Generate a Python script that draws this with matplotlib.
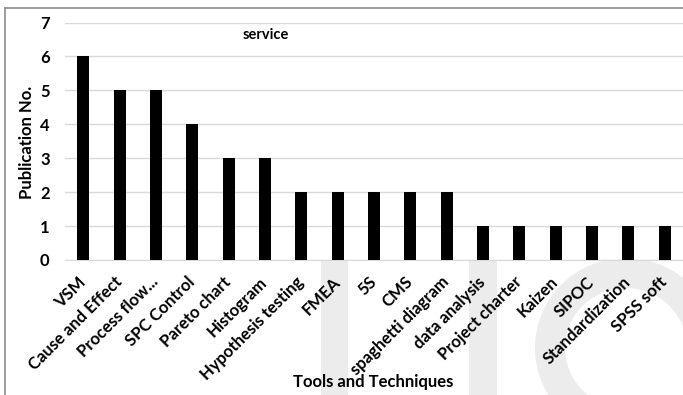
import matplotlib
matplotlib.use("Agg")
import matplotlib.pyplot as plt
from matplotlib.patches import Rectangle, Polygon
from matplotlib.lines import Line2D
from matplotlib.transforms import Affine2D
import numpy as np

# Publications per tool / technique in the service sector
tools = ["VSM", "Cause and Effect", "Process flow...", "SPC Control", "Pareto chart",
         "Histogram", "Hypothesis testing", "FMEA", "5S", "CMS", "spaghetti diagram",
         "data analysis", "Project charter", "Kaizen", "SIPOC", "Standardization",
         "SPSS soft"]
publications = [6, 5, 5, 4, 3, 3, 2, 2, 2, 2, 2, 1, 1, 1, 1, 1, 1]
y_ticks = [0, 1, 2, 3, 4, 5, 6, 7]

plt.rcParams["font.family"] = ["Lato", "DejaVu Sans"]

W, H = 683, 395
fig = plt.figure(figsize=(W / 100, H / 100), dpi=100)
fig.patch.set_facecolor("white")

# pixel (top-left origin) -> figure fraction
px = Affine2D().scale(1 / W, -1 / H).translate(0, 1) + fig.transFigure

# faint page watermark behind the chart
wm = "#ececec"
for x0, x1 in [(321, 348), (469, 497)]:
    fig.add_artist(Rectangle((x0, 200), x1 - x0, 220, facecolor=wm,
                             edgecolor="none", transform=px, zorder=-2))
t = np.radians(np.linspace(18, 250, 120))
cx, cy, a, b, w = 626, 348, 91, 90, 30
outer = np.column_stack([cx + a * np.cos(t), cy - b * np.sin(t)])
inner = np.column_stack([cx + (a - w) * np.cos(t[::-1]), cy - (b - w) * np.sin(t[::-1])])
fig.add_artist(Polygon(np.vstack([outer, inner]), closed=True, facecolor=wm,
                       edgecolor="none", transform=px, zorder=-2))

# chart frame (top and left edges)
fig.add_artist(Line2D([5, W], [8, 8], color="#8c8c8c", lw=1.2, transform=px))
fig.add_artist(Line2D([5, 5], [8, H], color="#8c8c8c", lw=1.2, transform=px))

ax = fig.add_axes([65 / W, 1 - 260 / H, 1 - 65 / W, (260 - 22.5) / H])
ax.set_facecolor("white")
x = np.arange(len(tools))
ax.bar(x, publications, width=0.33, color="black", zorder=3)
ax.set_xlim(-0.5, len(tools) - 0.5)
ax.set_ylim(0, 7)
ax.set_yticks(y_ticks)
ax.yaxis.grid(True, color="#d9d9d9", lw=1)
ax.set_axisbelow(True)
for s in ["top", "right", "left"]:
    ax.spines[s].set_visible(False)
ax.spines["bottom"].set_color("#d9d9d9")
ax.tick_params(axis="both", length=0)
ax.tick_params(axis="y", pad=11, labelsize=12)
ax.set_xticks(x)
ax.set_xticklabels(tools, rotation=45, ha="right", va="center",
                   rotation_mode="anchor", fontsize=12, fontweight="bold")
ax.tick_params(axis="x", pad=14)
for lab in ax.get_yticklabels():
    lab.set_fontweight("bold")

fig.text(266 / W, 1 - 35 / H, "service", ha="center", va="center",
         fontsize=10.5, fontweight="bold")
fig.text(373 / W, 1 - 382 / H, "Tools and Techniques", ha="center", va="center",
         fontsize=12, fontweight="bold")
fig.text(27 / W, 1 - 142 / H, "Publication No.", ha="center", va="center",
         rotation=90, fontsize=12, fontweight="bold")

fig.savefig("out.png", dpi=100)
